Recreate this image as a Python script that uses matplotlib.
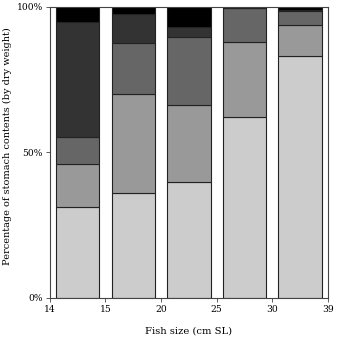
import numpy as np
import matplotlib.pyplot as plt

plt.rcParams['font.family'] = 'DejaVu Serif'

size_labels = ['14', '15', '20', '25', '30', '39']
# share of each prey category per size class (% dry weight), bottom to top
cat1 = [31.2, 36.0, 40.0, 62.3, 83.0]
cat2 = [14.7, 34.0, 26.2, 25.5, 10.8]
cat3 = [9.5, 17.5, 23.3, 11.8, 4.9]
cat4 = [39.3, 10.1, 3.5, 0.0, 0.3]
cat5 = [5.3, 2.4, 7.0, 0.4, 1.0]
colors = ['#cccccc', '#999999', '#666666', '#333333', '#000000']

fig = plt.figure(figsize=(3.37, 3.46), dpi=100)
ax = fig.add_axes([0.148, 0.139, 0.825, 0.841])

x = np.arange(len(cat1)) + 0.5
bottom = np.zeros(len(cat1))
for vals, c in zip([cat1, cat2, cat3, cat4, cat5], colors):
    ax.bar(x, vals, width=0.78, bottom=bottom, color=c,
           edgecolor='#222222', linewidth=0.8)
    bottom += np.array(vals)

ax.set_xlim(0, 5)
ax.set_ylim(0, 100)
ax.set_xticks(np.arange(6))
ax.set_xticklabels(size_labels)
ax.set_yticks([0, 50, 100])
ax.set_yticklabels(['0%', '50%', '100%'])
ax.tick_params(labelsize=6.6, length=3, width=0.6, color='#444444', pad=2)
for s in ax.spines.values():
    s.set_linewidth(0.8)
    s.set_color('#444444')

ax.set_xlabel('Fish size (cm SL)', fontsize=7.2, labelpad=9)
ax.set_ylabel('Percentage of stomach contents (by dry weight)', fontsize=7.0)
ax.yaxis.set_label_coords(-0.135, 0.52)

fig.savefig('out.png', dpi=100)
